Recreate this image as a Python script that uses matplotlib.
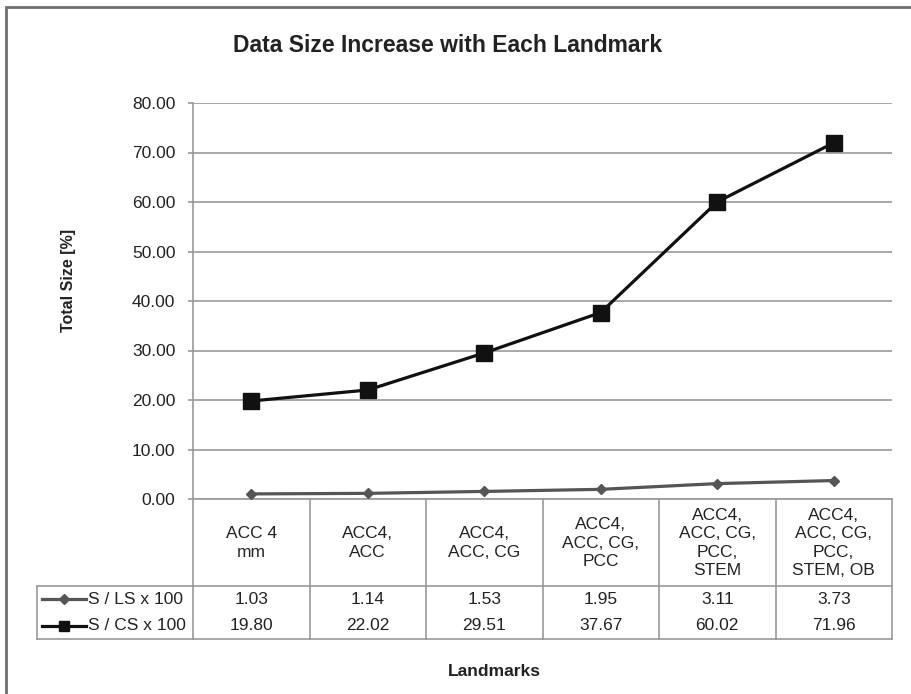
import matplotlib.pyplot as plt
from matplotlib.patches import Rectangle
from matplotlib.lines import Line2D
import matplotlib.ticker as ticker

plt.rcParams['font.family'] = ['Liberation Sans', 'DejaVu Sans']

categories = ["ACC 4\nmm", "ACC4,\nACC", "ACC4,\nACC, CG", "ACC4,\nACC, CG,\nPCC",
              "ACC4,\nACC, CG,\nPCC,\nSTEM", "ACC4,\nACC, CG,\nPCC,\nSTEM, OB"]
ls_values = [1.03, 1.14, 1.53, 1.95, 3.11, 3.73]
cs_values = [19.80, 22.02, 29.51, 37.67, 60.02, 71.96]
series_names = ["S / LS x 100", "S / CS x 100"]

W, H = 911, 694
fig = plt.figure(figsize=(W / 100, H / 100), dpi=100)
ax = fig.add_axes([193 / W, 1 - 499 / H, 699 / W, 396 / H])

grid_c = '#9a9a9a'
text_c = '#222222'
ls_color = '#555555'
cs_color = '#111111'
fs = 12.5

x = list(range(len(categories)))
ax.plot(x, ls_values, color=ls_color, lw=2.3, marker='D', ms=5.5, zorder=3)
ax.plot(x, cs_values, color=cs_color, lw=2.3, marker='s', ms=11, zorder=4)

ax.set_xlim(-0.5, len(categories) - 0.5)
ax.set_ylim(0, 80)
ax.yaxis.set_major_locator(ticker.MultipleLocator(10))
ax.yaxis.set_major_formatter(ticker.FormatStrFormatter('%.2f'))
ax.set_xticks([])
ax.grid(axis='y', color=grid_c, lw=1.2)
ax.set_axisbelow(True)
for s in ['top', 'right']:
    ax.spines[s].set_visible(False)
ax.spines['left'].set_color(grid_c)
ax.spines['bottom'].set_color(grid_c)
ax.spines['left'].set_linewidth(1.2)
ax.spines['bottom'].set_linewidth(1.2)
ax.tick_params(axis='y', direction='out', length=3.6, color=grid_c, width=1.2,
               labelsize=fs, labelcolor=text_c, pad=9)

# data table under the axis
tr = ax.transAxes
px = lambda v: (v - 193) / 699          # figure px -> axes fraction (x)
py = lambda v: (499 - v) / 396          # figure px -> axes fraction (y)

def hline(x0, x1, y):
    ax.add_line(Line2D([px(x0), px(x1)], [py(y), py(y)], transform=tr,
                       color=grid_c, lw=1.2, clip_on=False))

def vline(xx, y0, y1):
    ax.add_line(Line2D([px(xx), px(xx)], [py(y0), py(y1)], transform=tr,
                       color=grid_c, lw=1.2, clip_on=False))

col_w = 699 / len(categories)
hline(37, 892, 586)
hline(37, 892, 639)
vline(37, 586, 639)
for i in range(len(categories) + 1):
    vline(193 + i * col_w, 499, 639)

for i, cat in enumerate(categories):
    cx = 193 + (i + 0.5) * col_w
    ax.text(px(cx), py(543), cat, transform=tr, ha='center', va='center',
            fontsize=fs, color=text_c, linespacing=1.27)
    ax.text(px(cx), py(599), f"{ls_values[i]:.2f}", transform=tr,
            ha='center', va='center', fontsize=fs, color=text_c)
    ax.text(px(cx), py(626), f"{cs_values[i]:.2f}", transform=tr,
            ha='center', va='center', fontsize=fs, color=text_c)

# legend keys in the first column
for (yy, col, mk, ms), name in zip([(599, ls_color, 'D', 5), (626, cs_color, 's', 7.5)],
                                   series_names):
    ax.add_line(Line2D([px(42), px(86)], [py(yy), py(yy)], transform=tr,
                       color=col, lw=2.3, clip_on=False))
    ax.add_line(Line2D([px(64)], [py(yy)], transform=tr, color=col,
                       marker=mk, ms=ms, clip_on=False))
    ax.text(px(88), py(yy), name, transform=tr, ha='left', va='center',
            fontsize=fs, color=text_c)

fig.text(448 / W, 1 - 46 / H, "Data Size Increase with Each Landmark",
         ha='center', va='center', fontsize=16.5, fontweight='bold', color=text_c)
fig.text(68 / W, 1 - 280 / H, "Total Size [%]", rotation=90,
         ha='center', va='center', fontsize=11.5, fontweight='bold', color=text_c)
fig.text(494 / W, 1 - 671 / H, "Landmarks",
         ha='center', va='center', fontsize=12.6, fontweight='bold', color=text_c)

# chart frame (runs off the right and bottom edges)
fig.patches.append(Rectangle((6 / W, -0.1), 1.2, 1 - 7 / H + 0.1,
                             transform=fig.transFigure, fill=False,
                             edgecolor='#6e6e6e', lw=2))

fig.savefig('out.png', dpi=100)
